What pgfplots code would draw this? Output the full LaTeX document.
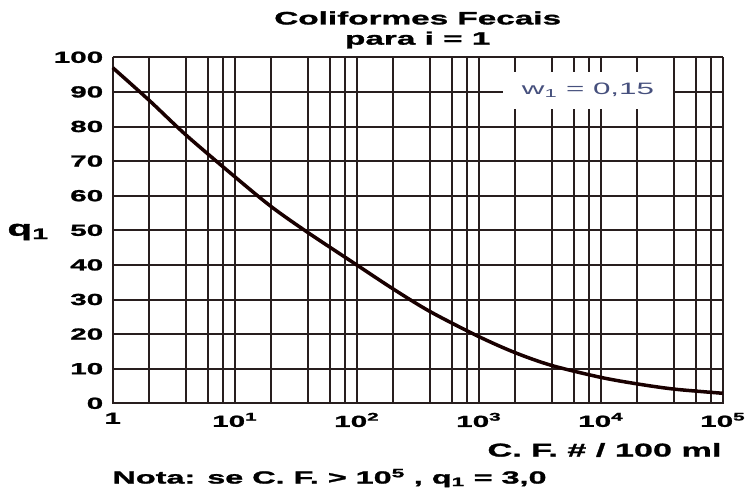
\documentclass[border=0pt]{standalone}
\usepackage{pgfplots}
\pgfplotsset{compat=1.18}
\usepackage{fontspec}
\setmainfont{Liberation Sans}
\newfontfamily\heavy[FakeStretch=1.85,FakeBold=1.5]{Liberation Sans}
\newfontfamily\wfont[FakeStretch=1.9]{Liberation Sans}
\definecolor{gridc}{RGB}{40,30,30}
\definecolor{wcol}{RGB}{70,80,125}
\begin{document}
\begin{tikzpicture}[x=1pt,y=1pt]
\path[use as bounding box] (0,0) rectangle (747,491);
\begin{axis}[
  at={(112.7pt,87.7pt)}, anchor=south west,
  scale only axis, width=610pt, height=346pt,
  xmode=log, log basis x=10,
  xmin=1, xmax=100000, ymin=0, ymax=100,
  xtick={1,10,100,1000,10000,100000},
  xticklabels={1,10\textsuperscript{1},10\textsuperscript{2},10\textsuperscript{3},10\textsuperscript{4},10\textsuperscript{5}},
  minor xtick={},
  extra x ticks={2,4,6,8,20,40,60,80,200,400,600,800,2000,4000,6000,8000,20000,40000,60000,80000},
  extra x tick labels={},
  extra x tick style={grid=major, major grid style={gridc, line width=2pt}},
  ytick={0,10,20,30,40,50,60,70,80,90,100},
  yticklabels={0,10,20,30,40,50,60,70,80,90,100},
  grid=major,
  major grid style={gridc, line width=2pt},
  axis line style={gridc, line width=1.6pt},
  major tick length=0pt, minor tick length=0pt,
  tick style={draw=none},
  ticklabel style={font=\heavy\bfseries\fontsize{16}{16}\selectfont, text=black},
  yticklabel style={anchor=east, xshift=-6pt},
  xticklabel style={anchor=north, yshift=-6pt},
  clip=false,
]
\addplot[color=black!90!red, line width=3.5pt, smooth] coordinates {
 (1,97) (2,87.5) (4,77.5) (10,65.5) (20,56.8) (40,49.3) (100,40) (200,33)
 (400,26.5) (1000,19.3) (2000,14.6) (4000,10.9) (10000,7.5) (20000,5.6) (40000,4.1) (100000,2.9)
};
\node[fill=white, minimum width=170pt, minimum height=37pt, inner sep=0pt, text=wcol,
  font=\wfont\fontsize{16.5}{16.5}\selectfont] at (axis cs:7870,90.5) {w\textsubscript{1} = 0,15};
\end{axis}
\node[font=\heavy\bfseries\fontsize{18}{18}\selectfont] at (417.7,473) {Coliformes Fecais};
\node[font=\heavy\bfseries\fontsize{18}{18}\selectfont] at (417.7,451) {para i = 1};
\node[font=\heavy\bfseries\fontsize{22}{22}\selectfont] at (28,259) {q\textsubscript{1}};
\node[anchor=east, font=\heavy\bfseries\fontsize{18.5}{18.5}\selectfont] at (725,41) {C. F. \# / 100 ml};
\node[anchor=west, font=\heavy\bfseries\fontsize{17.5}{17.5}\selectfont] at (109,13) {Nota: se C. F. > 10\textsuperscript{5} , q\textsubscript{1} = 3,0};
\end{tikzpicture}
\end{document}
